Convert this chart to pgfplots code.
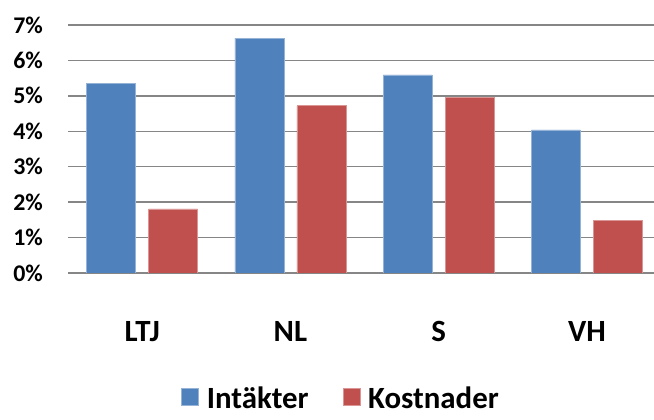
\documentclass[border=0pt]{standalone}
\usepackage{fontspec}
\setmainfont{Carlito}
\usepackage{pgfplots}
\pgfplotsset{compat=1.18}
\definecolor{cblue}{HTML}{4F81BD}
\definecolor{cred}{HTML}{C0504D}
\definecolor{cgrid}{HTML}{868686}
\begin{document}
\begin{tikzpicture}
\begin{axis}[name=ax, scale only axis, width=593bp, height=248bp,
  xmin=-0.5, xmax=3.5, ymin=0, ymax=7,
  ybar=13bp, bar width=49bp,
  xtick={0,1,2,3}, xticklabels={LTJ,NL,S,VH},
  ytick={0,1,2,3,4,5,6,7},
  yticklabel={\pgfmathprintnumber{\tick}\%},
  /pgf/number format/assume math mode=true,
  axis line style={draw=none},
  major tick length=0pt, tick style={draw=none},
  ymajorgrids, grid style={cgrid, line width=1.5bp},
  yticklabel style={font=\bfseries\fontsize{24}{24}\selectfont, inner sep=0pt, anchor=east, xshift=-25bp},
  xticklabel style={font=\bfseries\fontsize{31}{31}\selectfont, inner sep=0pt, anchor=base, yshift=-69bp},
  legend style={at={(0.4587,-0.552)}, anchor=south, draw=none, fill=none, legend columns=2,
    inner sep=0pt, outer sep=0pt,
    font=\bfseries\fontsize{31}{31}\selectfont,
    nodes={inner sep=0pt, outer sep=0pt},
    /tikz/every odd column/.append style={column sep=8bp},
    /tikz/every even column/.append style={column sep=34bp}},
  legend image code/.code={\fill[#1] (0bp,-7bp) rectangle (17bp,10bp);},
]
\addplot[fill=cblue, draw=cblue!60!white, line width=0.6bp] coordinates {(0,5.36) (1,6.63) (2,5.59) (3,4.04)};
\addplot[fill=cred, draw=cred!60!white, line width=0.6bp] coordinates {(0,1.81) (1,4.72) (2,4.95) (3,1.49)};
\legend{Intäkter,Kostnader}
\end{axis}
\pgfresetboundingbox
\useasboundingbox ([shift={(-68bp,-147bp)}]ax.south west) rectangle ([shift={(-7bp,25bp)}]ax.north east);
\end{tikzpicture}
\end{document}
